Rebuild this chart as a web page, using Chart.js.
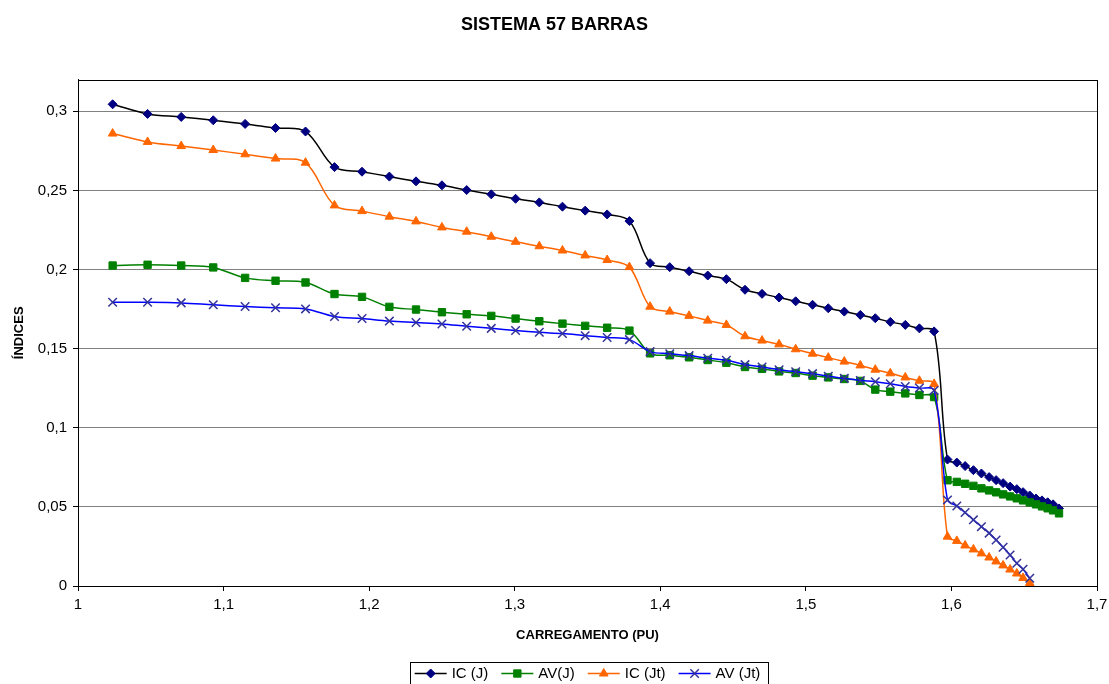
<!DOCTYPE html>
<html>
<head>
<meta charset="utf-8">
<script src="https://cdn.jsdelivr.net/npm/chart.js@4/dist/chart.umd.min.js"></script>
<style>
  html, body { margin: 0; padding: 0; background: #ffffff; overflow: hidden; }
  #wrap { width: 1109px; height: 684px; }
</style>
</head>
<body>
<div id="wrap"><canvas id="c" width="1109" height="684"></canvas></div>
<script>
// Carregamento (pu) de cada ponto calculado
const carregamento = [
  1.0238, 1.0478, 1.0709, 1.0929, 1.1148, 1.1357, 1.1563,
  1.1762, 1.1951, 1.2139, 1.2322, 1.2500, 1.2670, 1.2839, 1.3006, 1.3169, 1.3328, 1.3484, 1.3635, 1.3788,
  1.3930, 1.4065, 1.4198, 1.4326, 1.4454, 1.4582, 1.4699, 1.4816, 1.4930, 1.5046, 1.5154, 1.5264, 1.5374,
  1.5477, 1.5580, 1.5683, 1.5780, 1.5881,
  1.5973, 1.6037, 1.6094, 1.6151, 1.6206, 1.6259, 1.6307, 1.6355, 1.6403, 1.6449, 1.6492, 1.6538,
  1.6581, 1.6622, 1.6661, 1.6698, 1.6739
];

const icJ = [
  0.3044, 0.2983, 0.2964, 0.2943, 0.2920, 0.2894, 0.2872,
  0.2647, 0.2618, 0.2587, 0.2557, 0.2532, 0.2502, 0.2475, 0.2447, 0.2424, 0.2397, 0.2372, 0.2348, 0.2306,
  0.2040, 0.2015, 0.1989, 0.1962, 0.1939, 0.1872, 0.1846, 0.1823, 0.1799, 0.1777, 0.1755, 0.1734, 0.1713,
  0.1692, 0.1669, 0.1650, 0.1628, 0.1609,
  0.0799, 0.0780, 0.0758, 0.0732, 0.0711, 0.0688, 0.0669, 0.0650, 0.0628, 0.0612, 0.0593, 0.0572,
  0.0553, 0.0541, 0.0529, 0.0516, 0.0490
];

const avJ = [
  0.2025, 0.2030, 0.2025, 0.2013, 0.1947, 0.1929, 0.1918,
  0.1845, 0.1827, 0.1764, 0.1747, 0.1730, 0.1717, 0.1707, 0.1690, 0.1673, 0.1658, 0.1644, 0.1632, 0.1614,
  0.1470, 0.1458, 0.1445, 0.1428, 0.1411, 0.1384, 0.1372, 0.1356, 0.1346, 0.1329, 0.1318, 0.1308, 0.1296,
  0.1241, 0.1228, 0.1217, 0.1207, 0.1194,
  0.0668, 0.0658, 0.0646, 0.0633, 0.0617, 0.0604, 0.0592, 0.0579, 0.0566, 0.0554, 0.0541, 0.0528,
  0.0516, 0.0503, 0.0491, 0.0478, 0.0459
];

const icJt = [
  0.2859, 0.2806, 0.2780, 0.2755, 0.2728, 0.2701, 0.2675,
  0.2405, 0.2369, 0.2334, 0.2304, 0.2266, 0.2239, 0.2207, 0.2175, 0.2147, 0.2120, 0.2089, 0.2060, 0.2015,
  0.1765, 0.1734, 0.1707, 0.1677, 0.1650, 0.1578, 0.1551, 0.1527, 0.1496, 0.1468, 0.1443, 0.1418, 0.1394,
  0.1367, 0.1344, 0.1318, 0.1297, 0.1277,
  0.0312, 0.0285, 0.0256, 0.0231, 0.0206, 0.0180, 0.0155, 0.0130, 0.0104, 0.0079, 0.0051, 0.0019
];

const avJt = [
  0.1793, 0.1793, 0.1789, 0.1777, 0.1766, 0.1758, 0.1751,
  0.1703, 0.1690, 0.1674, 0.1665, 0.1656, 0.1641, 0.1628, 0.1614, 0.1603, 0.1595, 0.1582, 0.1570, 0.1557,
  0.1481, 0.1468, 0.1456, 0.1439, 0.1426, 0.1399, 0.1384, 0.1367, 0.1354, 0.1342, 0.1325, 0.1312, 0.1299,
  0.1291, 0.1278, 0.1261, 0.1251, 0.1236,
  0.0544, 0.0506, 0.0464, 0.0418, 0.0375, 0.0334, 0.0291, 0.0245, 0.0196, 0.0144, 0.0106, 0.0049
];

const seriesNames = ['IC (J)', 'AV(J)', 'IC (Jt)', 'AV (Jt)'];
const yTickValues = [0, 0.05, 0.1, 0.15, 0.2, 0.25, 0.3];
const xTickValues = [1, 1.1, 1.2, 1.3, 1.4, 1.5, 1.6, 1.7];

const pts = ys => ys.map((y, i) => ({ x: carregamento[i], y }));
const fmt = v => String(+v.toFixed(2)).replace('.', ',');

const FONT = '"Liberation Sans", Arial, sans-serif';

function serie(label, ys, line, mark, style, radius, order, markWidth) {
  return {
    label, data: pts(ys), order,
    borderColor: line, borderWidth: 1.5,
    pointStyle: style, pointRadius: radius, pointHoverRadius: radius,
    pointBackgroundColor: mark, pointBorderColor: mark,
    pointBorderWidth: markWidth || 1, tension: 0.35, fill: false
  };
}

const datasets = [
  serie(seriesNames[0], icJ,  '#000000', '#000080', 'rectRot',  4.5, 3),
  serie(seriesNames[1], avJ,  '#008000', '#008000', 'rect',     5.2, 2),
  serie(seriesNames[2], icJt, '#FF6600', '#FF6600', 'triangle', 5.0, 1),
  serie(seriesNames[3], avJt, '#0000FF', '#333399', 'crossRot', 6.0, 0, 1.5)
];

// Moldura da área de plotagem
const frame = {
  id: 'frame',
  afterDatasetsDraw(chart) {
    const { ctx, chartArea: a } = chart;
    ctx.save();
    ctx.strokeStyle = '#000000';
    ctx.lineWidth = 1;
    ctx.strokeRect(Math.round(a.left) + 0.5, Math.round(a.top) + 0.5,
                   Math.round(a.right - a.left), Math.round(a.bottom - a.top));
    ctx.restore();
  }
};

// Legenda com linha + marcador, dentro de uma caixa
const legendBox = {
  id: 'legendBox',
  afterDraw(chart) {
    const { ctx, chartArea: a } = chart;
    const size = 15, lineLen = 32, gap = 5, sep = 13;
    ctx.save();
    ctx.font = size + 'px ' + FONT;
    const ds = chart.data.datasets;
    const widths = ds.map(d => lineLen + gap + ctx.measureText(d.label).width);
    const total = widths.reduce((s, w) => s + w, 0) + sep * (ds.length - 1);
    const cy = 673.5;
    let x = (a.left + a.right) / 2 - total / 2;
    ctx.strokeStyle = '#000000';
    ctx.lineWidth = 1;
    ctx.strokeRect(Math.round(x - 5) + 0.5, 662.5, Math.round(total + 12), 30);
    ds.forEach((d, i) => {
      ctx.beginPath();
      ctx.strokeStyle = d.borderColor;
      ctx.lineWidth = d.borderWidth;
      ctx.moveTo(x, cy);
      ctx.lineTo(x + lineLen, cy);
      ctx.stroke();
      ctx.fillStyle = d.pointBackgroundColor;
      ctx.strokeStyle = d.pointBorderColor;
      ctx.lineWidth = d.pointBorderWidth;
      Chart.helpers.drawPoint(ctx, { pointStyle: d.pointStyle, radius: d.pointRadius, rotation: 0, borderWidth: d.pointBorderWidth }, x + lineLen / 2, cy);
      ctx.fillStyle = '#000000';
      ctx.textBaseline = 'middle';
      ctx.textAlign = 'left';
      ctx.fillText(d.label, x + lineLen + gap, cy + 0.5);
      x += widths[i] + sep;
    });
    ctx.restore();
  }
};

new Chart(document.getElementById('c'), {
  type: 'line',
  data: { datasets },
  options: {
    responsive: false,
    animation: false,
    layout: { padding: { left: 0, right: 0, top: 0, bottom: 38 } },
    plugins: {
      legend: { display: false },
      tooltip: { enabled: false },
      title: {
        display: true,
        text: 'SISTEMA 57 BARRAS',
        color: '#000000',
        font: { family: FONT, size: 18, weight: 'bold' },
        padding: { top: 14, bottom: 44 }
      }
    },
    scales: {
      x: {
        type: 'linear', min: 1, max: 1.7,
        afterBuildTicks: s => { s.ticks = xTickValues.map(v => ({ value: v })); },
        afterFit: s => { s.height = 60; s.paddingLeft = 0; s.paddingRight = 12; },
        ticks: { color: '#000000', font: { family: FONT, size: 15 }, padding: 5, callback: v => fmt(v), maxRotation: 0 },
        grid: { drawOnChartArea: false, color: '#000000', tickLength: 5, tickColor: '#000000' },
        border: { color: '#000000', width: 1 },
        title: { display: true, text: 'CARREGAMENTO (PU)', color: '#000000', font: { family: FONT, size: 13, weight: 'bold' }, padding: { top: 0, bottom: 3 } }
      },
      y: {
        type: 'linear', min: 0, max: 0.32,
        afterBuildTicks: s => { s.ticks = yTickValues.map(v => ({ value: v })); },
        afterFit: s => { s.width = 78; },
        ticks: { color: '#000000', font: { family: FONT, size: 15 }, padding: 6, callback: v => fmt(v) },
        grid: { color: '#808080', lineWidth: 1, tickLength: 5, tickColor: '#000000' },
        border: { color: '#000000', width: 1 },
        title: { display: true, text: 'ÍNDICES', color: '#000000', font: { family: FONT, size: 13, weight: 'bold' }, padding: { top: 12, bottom: 0 } }
      }
    }
  },
  plugins: [frame, legendBox]
});
</script>
</body>
</html>
